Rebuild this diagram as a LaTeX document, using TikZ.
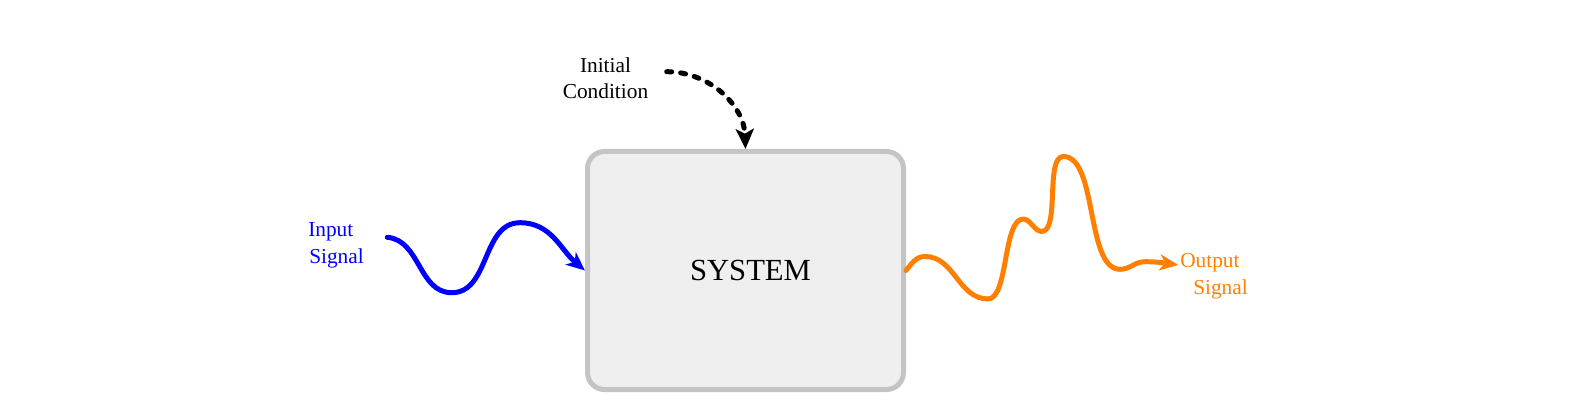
\documentclass[tikz,border=0pt]{standalone}
\usepackage{fontspec}
\setmainfont{Liberation Serif}
\usetikzlibrary{arrows.meta}
\definecolor{sigblue}{HTML}{0000FF}
\definecolor{sigorange}{HTML}{FF8000}
\definecolor{boxgray}{HTML}{C4C4C4}
\definecolor{boxfill}{HTML}{EFEFEF}
\begin{document}
\begin{tikzpicture}[x=0.75pt,y=0.75pt,
  sysbox/.style={draw=boxgray,fill=boxfill,line width=3.75pt,rounded corners=12.75pt,
    minimum width=237pt,minimum height=178.5pt,inner sep=0pt,
    font=\fontsize{23}{28}\selectfont},
  lbl/.style={font=\fontsize{16}{20}\selectfont,inner sep=0pt},
  sig/.style={line width=3.75pt,line cap=round,line join=round,
    -{Stealth[length=14pt,width=12pt,inset=4pt]}},
  icarrow/.style={line width=3.75pt,line cap=round,dash pattern=on 3.75pt off 6.75pt,
    -{Stealth[length=15pt,width=13.5pt,inset=3.5pt]}}]
\useasboundingbox (0,0) rectangle (1582,411);

\node[sysbox] (sys) at (745.5,140.5) {\hspace*{7.5pt}SYSTEM};

\node[lbl,text=sigblue,align=left,anchor=west] (inlbl) at (308,166)
  {Input\\\hspace*{0.75pt}Signal};
\node[lbl,text=sigorange,align=left,anchor=west] (outlbl) at (1180,134.5)
  {Output\\\hspace*{9.75pt}Signal};
\node[lbl,align=center] (iclbl) at (605.5,332.7) {Initial\\Condition};

% input signal
\coordinate (bs) at (387.3,173.7);
\coordinate (bt) at (451.7,118.3);
\coordinate (bp) at (520,188.3);
\draw[sig,color=sigblue]
  (bs) to[out=-5,in=180] (bt) to[out=0,in=180] (bp) to[out=0,in=140] (sys.west);

% output signal
\coordinate (o1) at (925,154.5);
\coordinate (o2) at (988,112);
\coordinate (o3) at (1023.3,192);
\coordinate (o4) at (1041.7,179.5);
\coordinate (o5) at (1063.3,254.5);
\coordinate (o6) at (1120,141.7);
\coordinate (o7) at (1145,149.3);
\coordinate (otip) at (1178.3,146);
\draw[sig,color=sigorange]
  (sys.east) to[out=50,in=180] (o1)
  to[out=0,in=180] (o2)
  to[out=0,in=180,looseness=0.6] (o3)
  to[out=0,in=180,looseness=0.8] (o4)
  to[out=0,in=180,looseness=0.6] (o5)
  to[out=0,in=180,looseness=0.7] (o6)
  to[out=0,in=180] (o7)
  to[out=0,in=172] (otip);

% initial condition
\coordinate (ics) at (666.7,339.3);
\draw[icarrow] (ics) to[out=0,in=92] (sys.north);
\end{tikzpicture}
\end{document}
